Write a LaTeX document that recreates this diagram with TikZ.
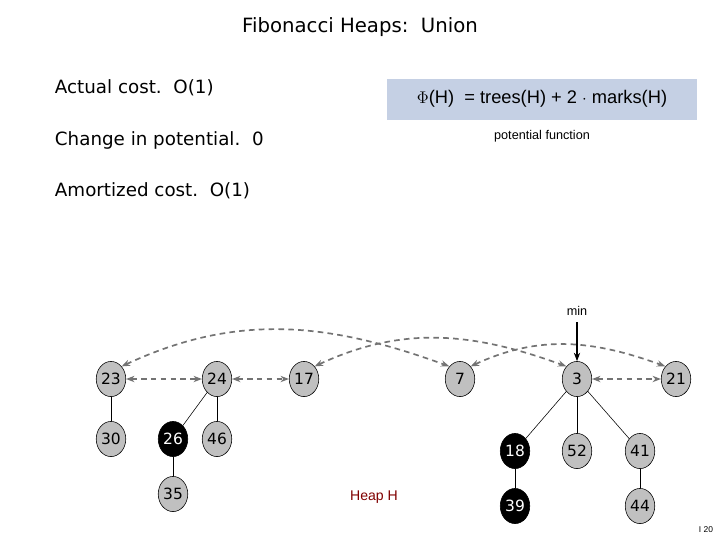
\documentclass[tikz,border=0pt]{standalone}
\usepackage{fontspec}
\setmainfont{DejaVu Sans}
\newfontfamily\arialfont{Liberation Sans}
\usetikzlibrary{arrows.meta,shapes.geometric}
\definecolor{nodegray}{RGB}{192,192,192}
\definecolor{boxblue}{RGB}{197,208,228}
\definecolor{heapred}{RGB}{128,0,0}
\tikzset{
  heapnode/.style={ellipse,draw=black,fill=nodegray,minimum width=21pt,minimum height=25pt,inner sep=0pt,font=\fontsize{11}{11}\selectfont},
  marked/.style={heapnode,fill=black,text=white},
  link/.style={gray!90!black,very thick,dash pattern=on 4pt off 3pt,{Stealth[length=6pt]}-{Stealth[length=6pt]}},
  child/.style={black,thin}
}
\begin{document}
\begin{tikzpicture}[x=0.025cm,y=-0.025cm]
        \useasboundingbox (0,0) rectangle (720,540);
        % text
        \node (title) at (360,27) {\fontsize{14}{14}\selectfont Fibonacci Heaps:\ \ Union};
        \node[anchor=west] (actual) at (50,88) {\fontsize{13}{13}\selectfont Actual cost.\ \ O(1)};
        \node[anchor=west] (change) at (50,140) {\fontsize{13}{13}\selectfont Change in potential.\ \ 0};
        \node[anchor=west] (amort) at (50,191) {\fontsize{13}{13}\selectfont Amortized cost.\ \ O(1)};
        \fill[boxblue] (387,79) rectangle (697,120);
        \node (phi) at (542,99) {\arialfont\fontsize{13}{13}\selectfont $\Phi$(H)\ \ = trees(H) + 2 $\cdot$ marks(H)};
        \node (potfun) at (542,136) {\arialfont\fontsize{9}{9}\selectfont potential function};
        % roots
        \node[heapnode] (n23) at (111,379) {23};
        \node[heapnode] (n24) at (217,379) {24};
        \node[heapnode] (n17) at (304,379) {17};
        \node[heapnode] (n7) at (460,379) {7};
        \node[heapnode] (n3) at (577,379) {3};
        \node[heapnode] (n21) at (676,379) {21};
        % children
        \node[heapnode] (n30) at (111,439) {30};
        \node[marked] (n26) at (173,439) {26};
        \node[heapnode] (n46) at (217,439) {46};
        \node[heapnode] (n35) at (173,494) {35};
        \node[marked] (n18) at (515,451) {18};
        \node[heapnode] (n52) at (577,451) {52};
        \node[heapnode] (n41) at (640,451) {41};
        \node[marked] (n39) at (515,506) {39};
        \node[heapnode] (n44) at (640,506) {44};
        \draw[child] (n23) -- (n30);
        \draw[child] (n24) -- (n26);
        \draw[child] (n24) -- (n46);
        \draw[child] (n26) -- (n35);
        \draw[child] (n3) -- (n18);
        \draw[child] (n3) -- (n52);
        \draw[child] (n3) -- (n41);
        \draw[child] (n18) -- (n39);
        \draw[child] (n41) -- (n44);
        % root list
        \draw[link] (n23) -- (n24);
        \draw[link] (n24) -- (n17);
        \draw[link] (n3) -- (n21);
        \draw[link] (n23.north east) to[out=25,in=160] (n7.north west);
        \draw[link] (n17.north east) to[out=25,in=160] (n3.north west);
        \draw[link] (n7.north east) to[out=25,in=160] (n21.north west);
        % min pointer
        \node (minlbl) at (577,311) {\arialfont\fontsize{9}{9}\selectfont min};
        \coordinate (minstart) at (577,322);
        \draw[-{Stealth[length=6pt]},thick] (minstart) -- (n3.north);
        \node[text=heapred] (heaph) at (374,497) {\arialfont\fontsize{10}{10}\selectfont Heap H};
        \node (page) at (706,530) {\arialfont\fontsize{6}{6}\selectfont I 20};
\end{tikzpicture}
\end{document}
